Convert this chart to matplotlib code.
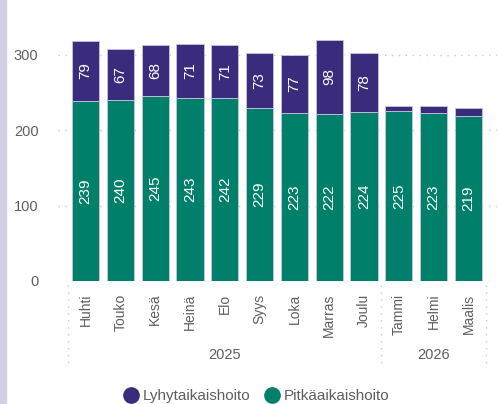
import numpy as np
import matplotlib.pyplot as plt
from matplotlib.lines import Line2D
import matplotlib.transforms as mtransforms

plt.rcParams['font.family'] = ['Liberation Sans', 'DejaVu Sans']

# --- Data ---
months = ["Huhti", "Touko", "Kesä", "Heinä", "Elo", "Syys", "Loka",
          "Marras", "Joulu", "Tammi", "Helmi", "Maalis"]
years = ["2025", "2026"]
year_spans = [(0, 8), (9, 11)]
long_term = [239, 240, 245, 243, 242, 229, 223, 222, 224, 225, 223, 219]
short_term = [79, 67, 68, 71, 71, 73, 77, 98, 78, 7, 9, 10]

purple = "#3b2b7d"
green = "#00806a"
grey = "#605e5c"

fig = plt.figure(figsize=(5, 4.04), dpi=100)
# lavender strip on the left edge
fig.patches.append(plt.Rectangle((0, 0), 6 / 500, 1, transform=fig.transFigure,
                                 color="#d2cfe2", zorder=0))

ax = fig.add_axes([58 / 500, 1 - 281 / 404, 439 / 500, 261 / 404])
x = np.arange(len(months))

ax.bar(x, long_term, width=0.78, color=green, edgecolor="#c9c4df", linewidth=0.6, zorder=2)
ax.bar(x, short_term, width=0.78, bottom=long_term, color=purple,
       edgecolor="#c9c4df", linewidth=0.6, zorder=2)

# data labels
for xi, lo, sh in zip(x, long_term, short_term):
    ax.text(xi, lo / 2, str(lo), rotation=90, ha="center", va="center",
            color="white", fontsize=11)
    if sh > 30:
        ax.text(xi, lo + sh / 2, str(sh), rotation=90, ha="center", va="center",
                color="white", fontsize=11)

ax.set_xlim(-0.79, 11.82)
ax.set_ylim(0, 346)
ax.set_yticks([0, 100, 200, 300])
ax.tick_params(axis="y", length=0, pad=14, labelcolor=grey, labelsize=10.5)
ax.set_xticks(x)
ax.set_xticklabels(months, rotation=90, color=grey, fontsize=10)
ax.tick_params(axis="x", length=0, pad=9)
ax.grid(axis="y", color="#c8c8c8", linestyle=(0, (1, 4)), linewidth=1.0, zorder=0)
for s in ax.spines.values():
    s.set_visible(False)

# year separators and labels below the month labels
trans = mtransforms.blended_transform_factory(ax.transData, ax.transAxes)
for xs in [-0.5, 8.5, 11.5]:
    ax.plot([xs, xs], [-0.015, -0.314], transform=trans, clip_on=False,
            color="#c8c8c8", linestyle=(0, (1, 4)), linewidth=1.0)
for yr, (a, b) in zip(years, year_spans):
    ax.text((a + b) / 2, -0.283, yr, transform=trans, ha="center", va="center",
            color=grey, fontsize=10.5)

handles = [Line2D([], [], marker="o", linestyle="", markersize=11, color=purple),
           Line2D([], [], marker="o", linestyle="", markersize=11, color=green)]
fig.legend(handles, ["Lyhytaikaishoito", "Pitkäaikaishoito"], loc="center",
           bbox_to_anchor=(0.505, 1 - 396 / 404), ncol=2, frameon=False,
           handletextpad=-0.25, columnspacing=0.4, fontsize=11, labelcolor=grey)

plt.savefig("out.png", dpi=100)
